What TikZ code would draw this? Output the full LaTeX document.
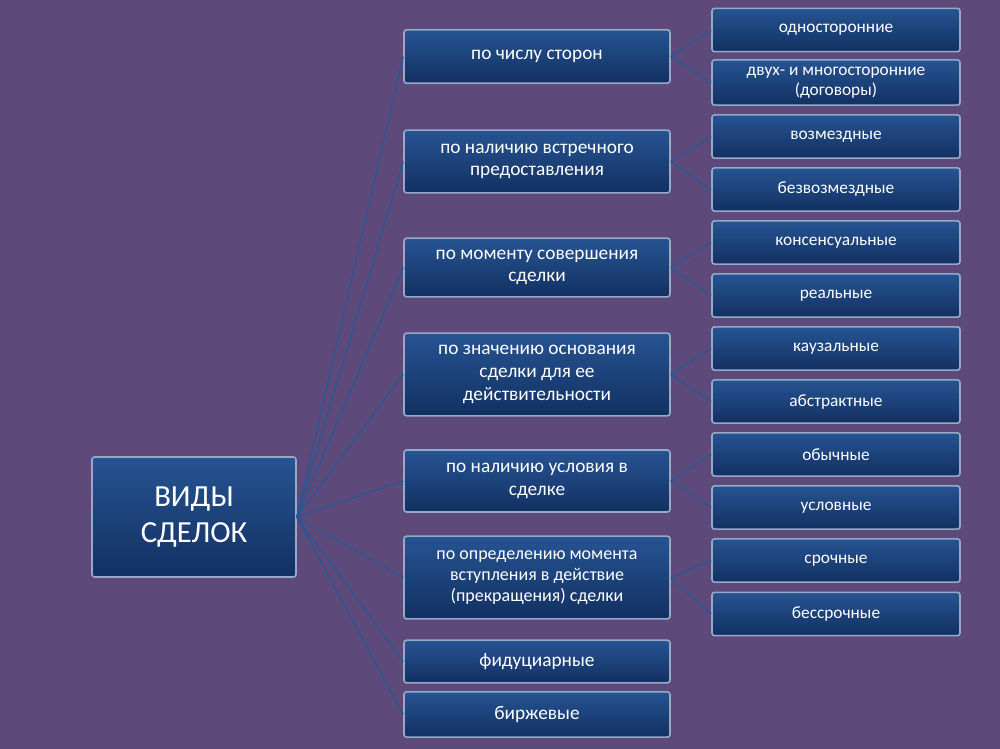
\documentclass[tikz,border=0pt]{standalone}
\usepackage{fontspec}
\setmainfont{Carlito}
\definecolor{bt}{RGB}{38,84,146}
\definecolor{bb}{RGB}{18,48,98}
\definecolor{bd}{RGB}{150,170,200}
\definecolor{ln}{RGB}{45,85,145}
\definecolor{bg}{RGB}{94,74,122}
\begin{document}
\begin{tikzpicture}[x=0.75pt,y=-0.75pt,
 box/.style={draw=bd,line width=1.2pt,rounded corners=2pt,top color=bt,bottom color=bb,text=white,align=center,inner sep=2pt},
 lnk/.style={draw=ln,line width=1.1pt}]
\fill[bg] (0,0) rectangle (1000,749);
\useasboundingbox (0,0) rectangle (1000,749);
\node[box,minimum width=153pt,minimum height=90pt,font=\fontsize{23}{27}\selectfont] (m) at (194,517) {ВИДЫ\\СДЕЛОК};
\tikzset{mid/.style={box,minimum width=199.5pt,font=\fontsize{14.5}{17}\selectfont},
 rt/.style={box,minimum width=186pt,minimum height=32.5pt,font=\fontsize{13}{15}\selectfont}}
\node[mid,minimum height=40pt] (a1) at (537,56.5) {по числу сторон};
\node[mid,minimum height=47pt] (a2) at (537,161.5) {по наличию встречного\\предоставления};
\node[mid,minimum height=44pt] (a3) at (537,267.5) {по моменту совершения\\сделки};
\node[mid,minimum height=62pt] (a4) at (537,374.5) {по значению основания\\сделки для ее\\действительности};
\node[mid,minimum height=46.5pt] (a5) at (537,481) {по наличию условия в\\сделке};
\node[mid,minimum height=62pt,font=\fontsize{13.5}{16}\selectfont] (a6) at (537,577.5) {по определению момента\\вступления в действие\\(прекращения) сделки};
\node[mid,minimum height=32pt] (a7) at (537,661.5) {фидуциарные};
\node[mid,minimum height=34pt] (a8) at (537,714.5) {биржевые};
\node[rt] (b1) at (836,30) {односторонние};
\node[rt,minimum height=34pt] (b2) at (836,82.5) {двух- и многосторонние\\(договоры)};
\node[rt] (b3) at (836,136.5) {возмездные};
\node[rt] (b4) at (836,189.5) {безвозмездные};
\node[rt] (b5) at (836,242.5) {консенсуальные};
\node[rt] (b6) at (836,295.5) {реальные};
\node[rt] (b7) at (836,348.5) {каузальные};
\node[rt] (b8) at (836,401.5) {абстрактные};
\node[rt] (b9) at (836,454.5) {обычные};
\node[rt] (b10) at (836,507.5) {условные};
\node[rt] (b11) at (836,560.5) {срочные};
\node[rt] (b12) at (836,614) {бессрочные};
\foreach \i in {1,...,8} \draw[lnk] (m.east) -- (a\i.west);
\foreach \i/\j/\k in {1/1/2,2/3/4,3/5/6,4/7/8,5/9/10,6/11/12} {\draw[lnk] (a\i.east) -- (b\j.west); \draw[lnk] (a\i.east) -- (b\k.west);}
\end{tikzpicture}
\end{document}
